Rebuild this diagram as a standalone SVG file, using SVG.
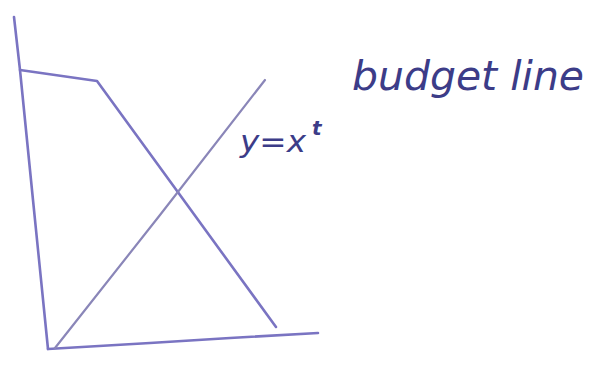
<svg xmlns="http://www.w3.org/2000/svg" width="601" height="373" viewBox="0 0 601 373">
<style>
.ln{fill:none;stroke:#7a74c2;stroke-width:2.6;stroke-linecap:round;stroke-linejoin:round}
.gl{fill:none;stroke:#8a86b8;stroke-width:2.2;stroke-linecap:round}
.hw{font-family:"DejaVu Sans",sans-serif;fill:#3c3c88;font-style:italic}
</style>
<rect width="601" height="373" fill="#ffffff"/>
<g id="axes">
<path class="ln" d="M14 17 L20 70 L33 200 L48 349"/>
<path class="ln" d="M48 349 L150 343 L230 338 L318 333"/>
</g>
<g id="connectors">
<path id="budget" class="ln" d="M20 70 L97 81 L180 195 L276 327"/>
<path id="yx" class="gl" d="M55 348 L160 215 L265 80"/>
</g>
<g id="label-budget">
<text class="hw" x="352" y="90" font-size="40" textLength="232" lengthAdjust="spacingAndGlyphs">budget line</text>
</g>
<g id="label-yx">
<text class="hw" x="240" y="152" font-size="30" textLength="66" lengthAdjust="spacingAndGlyphs">y=x</text>
<text class="hw" x="312" y="135" font-size="20" font-weight="bold" fill="#3030a0">t</text>
</g>
</svg>
